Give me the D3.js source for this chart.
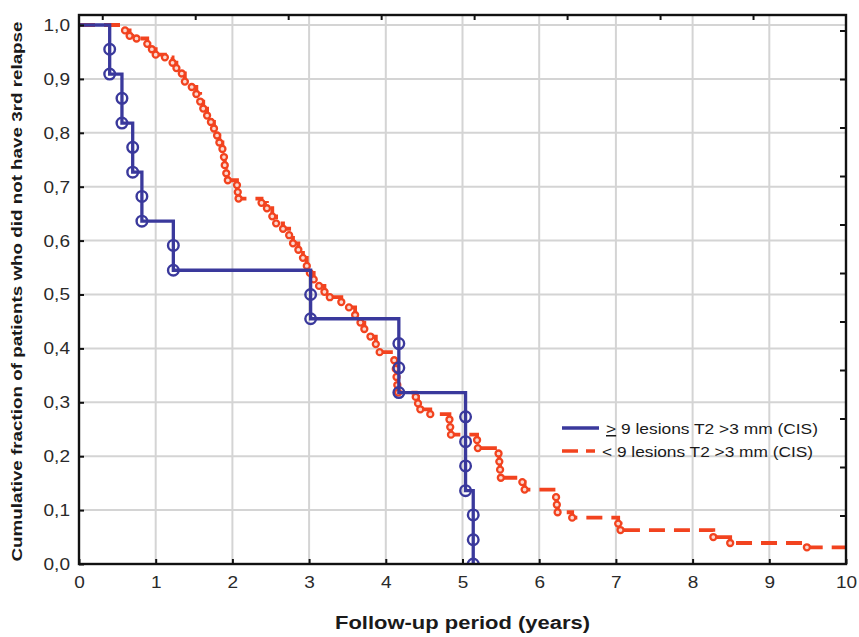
<!DOCTYPE html>
<html>
<head>
<meta charset="utf-8">
<script src="https://cdn.jsdelivr.net/npm/d3@7"></script>
<style>
  body { margin: 0; background: #fff; }
  text { font-family: Arial, "Liberation Sans", sans-serif; }
</style>
</head>
<body>
<div id="chart"></div>
<script>
// >= 9 lesions group: event times and survival after each event
var blueTimes = [0.40, 0.40, 0.56, 0.56, 0.70, 0.70, 0.82, 0.82, 1.23, 1.23,
                 3.02, 3.02, 4.17, 4.17, 4.17, 5.04, 5.04, 5.04, 5.04, 5.14, 5.14, 5.14];
var blueSurv  = [0.955, 0.909, 0.864, 0.818, 0.773, 0.727, 0.682, 0.636, 0.591, 0.545,
                 0.500, 0.455, 0.409, 0.364, 0.318, 0.273, 0.227, 0.182, 0.136, 0.091, 0.045, 0.0];

// < 9 lesions group
var redTimes = [0.60, 0.66, 0.75, 0.89, 0.95, 1.00, 1.12, 1.22, 1.27, 1.34, 1.38, 1.47, 1.53, 1.58, 1.62,
                1.67, 1.72, 1.76, 1.80, 1.83, 1.87, 1.89, 1.90, 1.92, 1.94, 2.06, 2.07, 2.08, 2.38, 2.45,
                2.52, 2.57, 2.66, 2.74, 2.79, 2.86, 2.92, 2.97, 3.01, 3.06, 3.13, 3.20, 3.27, 3.42, 3.52,
                3.60, 3.67, 3.72, 3.80, 3.87, 3.92, 4.11, 4.13, 4.14, 4.15, 4.16, 4.39, 4.42, 4.45, 4.58,
                4.83, 4.84, 4.85, 5.19, 5.20, 5.47, 5.48, 5.49, 5.50, 5.78, 5.81, 6.22, 6.23, 6.24, 6.43,
                7.03, 7.06, 8.27, 8.49, 9.49];
var redSurv  = [0.990, 0.980, 0.975, 0.965, 0.955, 0.945, 0.940, 0.930, 0.920, 0.910, 0.895, 0.885, 0.872, 0.858, 0.845,
                0.832, 0.820, 0.808, 0.795, 0.782, 0.770, 0.755, 0.740, 0.725, 0.712, 0.703, 0.690, 0.678, 0.670, 0.660,
                0.645, 0.632, 0.622, 0.610, 0.595, 0.583, 0.568, 0.553, 0.540, 0.528, 0.516, 0.505, 0.495, 0.486, 0.476,
                0.462, 0.448, 0.436, 0.422, 0.408, 0.393, 0.378, 0.362, 0.347, 0.332, 0.318, 0.310, 0.298, 0.287, 0.278,
                0.268, 0.254, 0.240, 0.230, 0.215, 0.205, 0.190, 0.175, 0.160, 0.152, 0.138, 0.124, 0.110, 0.096, 0.086,
                0.075, 0.063, 0.050, 0.039, 0.031];
var redEnd = 10;

var xTicks = [0, 1, 2, 3, 4, 5, 6, 7, 8, 9, 10];
var yTicks = [0, 0.1, 0.2, 0.3, 0.4, 0.5, 0.6, 0.7, 0.8, 0.9, 1.0];
var legendLabels = ["9 lesions T2 >3 mm (CIS)", "< 9 lesions T2 >3 mm (CIS)"];

var width = 859, height = 637;
var pLeft = 79, pRight = 846, pTop = 15, pBottom = 564;

var blue = "#3a399c", red = "#f2431f";

var svg = d3.select("#chart").append("svg")
    .attr("width", width)
    .attr("height", height);

var x = d3.scaleLinear().domain([0, 10]).range([pLeft, pRight]);
var y = d3.scaleLinear().domain([0, 1]).range([pBottom, 25]);

// grid
var grid = svg.append("g").attr("class", "grid");
grid.selectAll(".vg").data(xTicks.slice(1, -1)).enter().append("line")
    .attr("x1", function(d){ return x(d); }).attr("x2", function(d){ return x(d); })
    .attr("y1", pTop).attr("y2", pBottom)
    .attr("stroke", "#d4d4d4").attr("stroke-width", 2);
grid.selectAll(".hg").data(yTicks.slice(1)).enter().append("line")
    .attr("x1", pLeft).attr("x2", pRight)
    .attr("y1", function(d){ return y(d); }).attr("y2", function(d){ return y(d); })
    .attr("stroke", "#d4d4d4").attr("stroke-width", 2);

svg.append("clipPath").attr("id", "clip").append("rect")
    .attr("x", pLeft).attr("y", pTop).attr("width", pRight - pLeft).attr("height", pBottom - pTop);

var plot = svg.append("g").attr("clip-path", "url(#clip)");

var line = d3.line()
    .x(function(d){ return x(d[0]); })
    .y(function(d){ return y(d[1]); })
    .curve(d3.curveStepAfter);

var redPts = [[0, 1]].concat(redTimes.map(function(t, i){ return [t, redSurv[i]]; }));
redPts.push([redEnd, redSurv[redSurv.length - 1]]);
var bluePts = [[0, 1]].concat(blueTimes.map(function(t, i){ return [t, blueSurv[i]]; }));

plot.append("path").datum(redPts)
    .attr("d", line)
    .attr("fill", "none")
    .attr("stroke", red).attr("stroke-width", 3.8)
    .attr("stroke-dasharray", "16,9");

plot.selectAll(".rc").data(redTimes).enter().append("circle")
    .attr("cx", function(d){ return x(d); })
    .attr("cy", function(d, i){ return y(redSurv[i]); })
    .attr("r", 3)
    .attr("fill", "#fbd8cf")
    .attr("stroke", red).attr("stroke-width", 2.3);

plot.append("path").datum(bluePts)
    .attr("d", line)
    .attr("fill", "none")
    .attr("stroke", blue).attr("stroke-width", 3.3);

plot.selectAll(".bc").data(blueTimes).enter().append("circle")
    .attr("cx", function(d){ return x(d); })
    .attr("cy", function(d, i){ return y(blueSurv[i]); })
    .attr("r", 5.3)
    .attr("fill", "none")
    .attr("stroke", blue).attr("stroke-width", 2.4);

// frame
svg.append("rect")
    .attr("x", pLeft).attr("y", pTop).attr("width", pRight - pLeft).attr("height", pBottom - pTop)
    .attr("fill", "none").attr("stroke", "#111").attr("stroke-width", 2.4);

var fmt = function(d){ return d3.format(".1f")(d).replace(".", ","); };

svg.append("g")
    .attr("transform", "translate(0," + pBottom + ")")
    .call(d3.axisBottom(x).tickValues(xTicks).tickSize(-5).tickPadding(12).tickFormat(d3.format("d")));
svg.append("g")
    .attr("transform", "translate(" + pLeft + ",0)")
    .call(d3.axisLeft(y).tickValues(yTicks).tickSize(-5).tickPadding(9).tickFormat(fmt));

// top and right border ticks (secondary scales of the original frame)
var xTop = d3.scaleLinear().domain([-0.25, 8]).range([pLeft, pRight]);
svg.append("g")
    .attr("transform", "translate(0," + pTop + ")")
    .call(d3.axisTop(xTop).tickValues(d3.range(0, 8)).tickSize(-5).tickFormat(""));
var yRight = d3.scaleLinear().domain([0, 11.32]).range([pBottom, pTop]);
svg.append("g")
    .attr("transform", "translate(" + pRight + ",0)")
    .call(d3.axisRight(yRight).tickValues(d3.range(1, 12)).tickSize(-6).tickFormat(""));

svg.selectAll(".domain").remove();
svg.selectAll(".tick line").attr("stroke", "#111").attr("stroke-width", 2);
svg.selectAll(".tick text").attr("font-size", 17).attr("fill", "#2a2a2a")
    .attr("transform", "scale(1.12,1)")
    .each(function(){
        // keep anchor position after horizontal stretch
        var t = d3.select(this);
        var xx = +t.attr("x") || 0;
        t.attr("x", xx / 1.12);
    });

// axis titles
svg.append("text")
    .attr("x", (pLeft + pRight) / 2).attr("y", 629)
    .attr("text-anchor", "middle")
    .attr("font-size", 18).attr("font-weight", "bold").attr("fill", "#1a1a1a")
    .attr("textLength", 255).attr("lengthAdjust", "spacingAndGlyphs")
    .text("Follow-up period (years)");

svg.append("text")
    .attr("transform", "translate(22," + ((pTop + pBottom) / 2 + 2) + ") rotate(-90)")
    .attr("text-anchor", "middle")
    .attr("font-size", 15.5).attr("font-weight", "bold").attr("fill", "#1a1a1a")
    .attr("textLength", 540).attr("lengthAdjust", "spacingAndGlyphs")
    .text("Cumulative fraction of patients who did not have 3rd relapse");

// legend
var legend = svg.append("g").attr("transform", "translate(562,0)");
legend.append("line")
    .attr("x1", 0).attr("x2", 37).attr("y1", 428).attr("y2", 428)
    .attr("stroke", blue).attr("stroke-width", 3.4);
legend.append("line")
    .attr("x1", 0).attr("x2", 33).attr("y1", 451).attr("y2", 451)
    .attr("stroke", red).attr("stroke-width", 3.6).attr("stroke-dasharray", "16,8");

var t1 = legend.append("text").attr("x", 44).attr("y", 434)
    .attr("font-size", 15).attr("fill", "#1a1a1a")
    .attr("textLength", 212).attr("lengthAdjust", "spacingAndGlyphs");
t1.append("tspan").attr("text-decoration", "underline").text(">");
t1.append("tspan").text(" " + legendLabels[0]);
legend.append("text").attr("x", 40).attr("y", 457)
    .attr("font-size", 15).attr("fill", "#1a1a1a")
    .attr("textLength", 211).attr("lengthAdjust", "spacingAndGlyphs")
    .text(legendLabels[1]);
</script>
</body>
</html>
